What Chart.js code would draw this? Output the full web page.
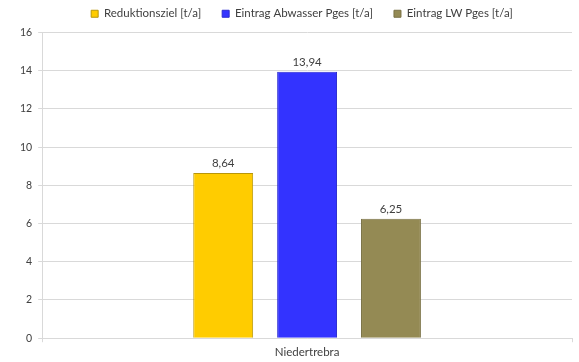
<!DOCTYPE html>
<html>
<head>
<meta charset="utf-8">
<script src="https://cdn.jsdelivr.net/npm/chart.js@4"></script>
<style>
  html, body { margin: 0; padding: 0; background: #fff; }
  #wrap { width: 579px; height: 362px; }
</style>
</head>
<body>
<div id="wrap"><canvas id="pChart"></canvas></div>
<script>
// Phosphor-Einträge Niedertrebra
const categories = ['Niedertrebra'];
const seriesNames = ['Reduktionsziel [t/a]', 'Eintrag Abwasser Pges [t/a]', 'Eintrag LW Pges [t/a]'];
const reduktionsziel = [8.64];
const eintragAbwasser = [13.94];
const eintragLW = [6.25];
const yTicks = [0, 2, 4, 6, 8, 10, 12, 14, 16];

const fillColors = ['#FFCC00', '#3333FF', '#948A54'];
const edgeColors = ['#B8960A', '#2A2AD0', '#7A7245'];

const FONT = "Lato, 'Open Sans', sans-serif";
Chart.defaults.font.family = FONT;
Chart.defaults.color = '#404040';

// Werte über den Säulen, mit Dezimalkomma
const valueLabels = {
  id: 'valueLabels',
  afterDatasetsDraw(chart) {
    const ctx = chart.ctx;
    ctx.save();
    ctx.font = '11.5px ' + FONT;
    ctx.fillStyle = '#404040';
    ctx.textAlign = 'center';
    ctx.textBaseline = 'bottom';
    chart.data.datasets.forEach((ds, i) => {
      chart.getDatasetMeta(i).data.forEach((bar, j) => {
        const txt = ds.data[j].toFixed(2).replace('.', ',');
        ctx.fillText(txt, bar.x, bar.y - 4);
      });
    });
    ctx.restore();
  }
};

// Legende: weiter Abstand zwischen den Einträgen, aber wenig Platz nach oben/unten
const LEGEND_SHRINK = 10;
const LEGEND_LIFT = 13;
const LEGEND_SHIFT = 9;
const legendFit = {
  id: 'legendFit',
  beforeInit(chart) {
    const lg = chart.legend;
    const fit = lg.fit;
    lg.fit = function () {
      fit.call(this);
      this.height -= LEGEND_SHRINK;
    };
    const draw = lg.draw;
    lg.draw = function () {
      this.top -= LEGEND_LIFT;
      this.left += LEGEND_SHIFT;
      this.right += LEGEND_SHIFT;
      draw.call(this);
      this.top += LEGEND_LIFT;
      this.left -= LEGEND_SHIFT;
      this.right -= LEGEND_SHIFT;
    };
  }
};

const series = [reduktionsziel, eintragAbwasser, eintragLW];

new Chart(document.getElementById('pChart'), {
  type: 'bar',
  data: {
    labels: categories,
    datasets: series.map((vals, i) => ({
      label: seriesNames[i],
      data: vals,
      backgroundColor: fillColors[i],
      borderColor: edgeColors[i],
      borderWidth: 1,
      barPercentage: 0.714,
      categoryPercentage: 0.475
    }))
  },
  options: {
    responsive: true,
    maintainAspectRatio: false,
    animation: false,
    layout: { padding: { left: 14, right: 7, top: 0, bottom: 0 } },
    plugins: {
      legend: {
        position: 'top',
        labels: {
          boxWidth: 7,
          boxHeight: 7,
          padding: 21,
          color: '#404040',
          font: { size: 11.5 }
        }
      },
      tooltip: { enabled: false }
    },
    scales: {
      x: {
        offset: true,
        grid: { display: true, drawOnChartArea: false, color: '#D9D9D9', tickLength: 4 },
        border: { color: '#D9D9D9' },
        ticks: { color: '#404040', font: { size: 11.5 }, padding: 3 }
      },
      y: {
        min: 0,
        max: 16,
        afterBuildTicks: axis => { axis.ticks = yTicks.map(v => ({ value: v })); },
        grid: { color: '#D9D9D9', tickLength: 4 },
        border: { color: '#D9D9D9' },
        ticks: { color: '#404040', font: { size: 10.5 }, padding: 6 }
      }
    }
  },
  plugins: [valueLabels, legendFit]
});
</script>
</body>
</html>
